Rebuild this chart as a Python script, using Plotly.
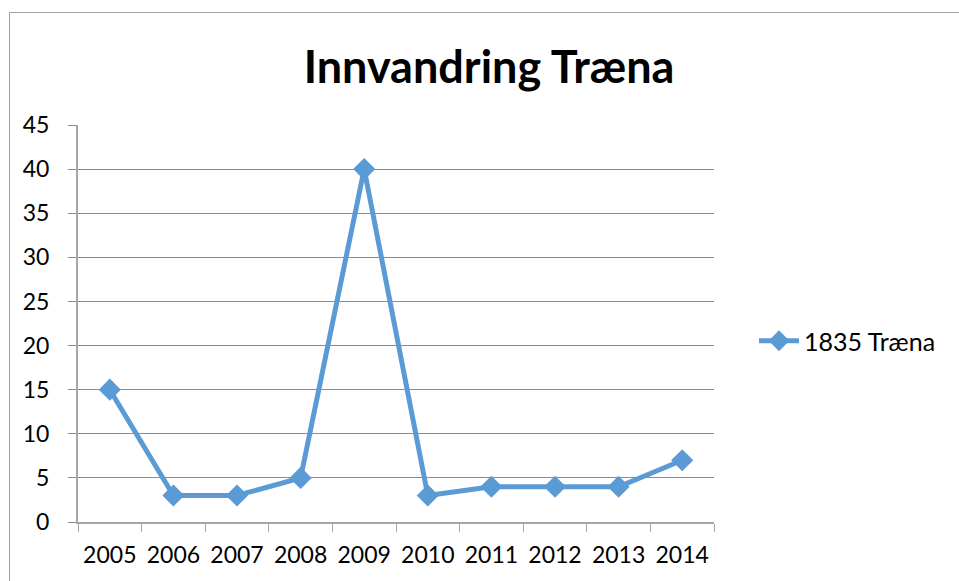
import plotly.graph_objects as go

years = ["2005", "2006", "2007", "2008", "2009", "2010", "2011", "2012", "2013", "2014"]
values = [15, 3, 3, 5, 40, 3, 4, 4, 4, 7]
series_name = "1835 Træna"
title_text = "Innvandring Træna"

W, H = 959, 581
L, R, T, B = 78, 714, 125, 522

fig = go.Figure()
fig.add_trace(go.Scatter(
    x=years, y=values, name=series_name, mode="lines+markers",
    line=dict(color="#5B9BD5", width=5),
    marker=dict(symbol="diamond", size=17, color="#5B9BD5"),
    cliponaxis=False,
))

grid = "#8c8c8c"
axcol = "#a6a6a6"
fam = "Lato, 'Open Sans', sans-serif"
fig.update_layout(
    width=W, height=H,
    margin=dict(l=L, r=W - R, t=T, b=H - B, pad=0, autoexpand=False),
    paper_bgcolor="white", plot_bgcolor="white",
    font=dict(family=fam, size=23, color="black"),
    title=dict(text="<b>" + title_text + "</b>", x=489 / W, xanchor="center",
               y=1 - 67 / H, yanchor="middle", yref="container",
               font=dict(size=45, family=fam), automargin=False),
    showlegend=True,
    legend=dict(x=(754 - L) / (R - L), xanchor="left", y=(B - 341) / (B - T), yanchor="middle",
                font=dict(size=25), itemwidth=40, bgcolor="rgba(0,0,0,0)"),
    xaxis=dict(type="category", range=[-0.5, len(years) - 0.5], tickson="boundaries",
               ticks="outside", ticklen=8,
               tickcolor=axcol, showline=True, linecolor=axcol, linewidth=1.5,
               showgrid=False, ticklabelstandoff=12, tickangle=0, automargin=False,
               fixedrange=True),
    yaxis=dict(range=[0, 45], dtick=5, tick0=0, ticks="outside", ticklen=8,
               tickcolor=grid, showline=True, linecolor=axcol, linewidth=2,
               showgrid=True, gridcolor=grid, gridwidth=1, zeroline=False,
               ticklabelstandoff=14, automargin=False, fixedrange=True),
    shapes=[dict(type="rect", xref="paper", yref="paper",
                 x0=(9.5 - L) / (R - L), x1=1.6,
                 y0=-0.3, y1=(B - 12.5) / (B - T),
                 line=dict(color="#a0a0a0", width=1), fillcolor="rgba(0,0,0,0)",
                 layer="below")],
)

fig.write_html("out.html", config={"displayModeBar": False},
               post_script="document.body.style.margin='0';")
